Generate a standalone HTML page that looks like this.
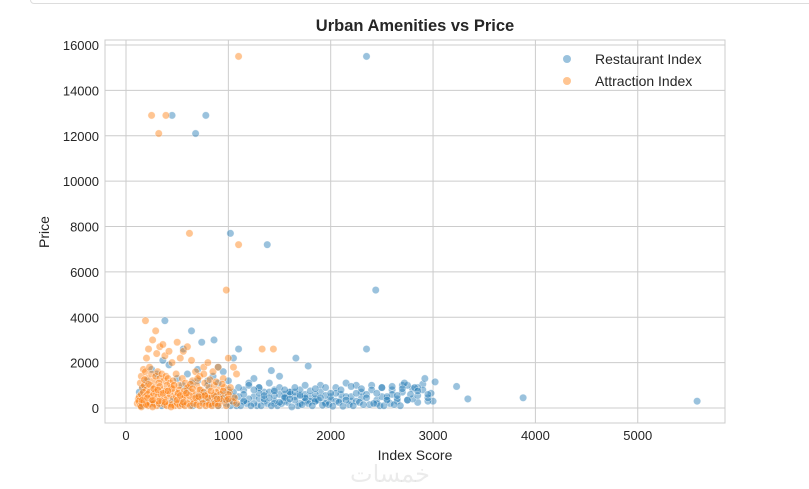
<!DOCTYPE html>
<html><head><meta charset="utf-8"><style>
body{margin:0;background:#fff;width:809px;height:489px;overflow:hidden;font-family:"Liberation Sans",sans-serif}
</style></head><body>
<div style="position:absolute;left:30px;top:-6px;width:790px;height:8px;border:1px solid #ddd;border-radius:4px"></div>
<svg id="c" width="809" height="489" style="position:absolute;left:0;top:0"></svg>
<script>
const xTicks=[0,1000,2000,3000,4000,5000];
const yTicks=[0,2000,4000,6000,8000,10000,12000,14000,16000];
const seriesNames=["Restaurant Index","Attraction Index"];
const restX=[450,680,780,2350,1020,1380,2440,2350,380,640,3880,5580,3340,3230,3020,860,740,560,1050,1100,1250,1420,1500,1660,1780,1900,2050,2150,2250,2400,2500,2600,2700,2800,2900,2980,3000,2950,2850,2750,2650,2550,2450,2300,2200,2100,2000,1950,1850,1750,1700,1600,1550,1450,1350,1300,1200,1150,900,950,850,800,700,600,500,420,360,300,250,200,160,130];
const restY=[12900,12100,12900,15500,7700,7200,5200,2600,3850,3400,450,300,400,950,1150,3000,2900,2600,2200,2600,1300,1650,1400,2200,1850,1000,900,1100,1000,1000,900,800,1000,850,1050,650,300,300,250,350,300,400,350,450,300,350,500,250,300,400,600,700,600,800,700,900,1100,800,1800,1600,1400,1200,1700,1500,1300,1900,2100,1500,1700,1200,900,700];
const restDense=[[1250,500],[1400,700],[1500,900],[1600,600],[1700,800],[1800,500],[1900,700],[2000,400],[2100,600],[2200,500],[2300,700],[2400,800],[2500,500],[2600,600],[2700,700],[2800,400],[2900,800],[1150,300],[1300,400],[1450,200],[1550,300],[1650,500],[1750,300],[1850,400],[1950,200],[2050,300],[2150,500],[2250,300],[2350,600],[2450,200],[2550,500],[2650,400],[2750,1000],[2850,900],[1000,800],[1100,500],[1200,400],[1350,300],[1500,600],[1600,700],[1700,200],[1800,300],[900,100],[1000,300],[1080,100],[1180,200],[1280,100],[1380,200],[1480,100],[1580,250],[1680,100],[1780,200],[1880,350],[1980,150],[2080,250],[2180,150],[2280,250],[2380,150],[2480,100],[2580,200],[2680,100],[2780,600],[700,500],[800,400],[950,600],[1050,500],[1150,300],[1250,200],[1350,400],[1450,300],[1550,500],[1650,700],[1750,600],[1850,300],[600,800],[750,700],[880,500],[980,200],[1020,100],[1120,100],[1220,100],[1320,100],[1420,100],[1520,200],[1620,50],[1720,150],[1820,100],[1920,120],[2020,80],[2120,80],[2220,100],[2320,150],[2420,200],[2520,100],[2620,150],[2720,1100],[2820,900],[2920,1300],[550,1000],[650,1100],[700,1200],[800,1000],[900,1100],[1000,1200],[1100,900],[1200,1000],[1300,900],[1400,1100],[1450,550],[1550,450],[1650,350],[1750,450],[1850,600],[1950,550],[2050,650],[2150,350],[2250,650],[2350,450],[2450,650],[2550,350],[2650,550],[2750,350],[2850,550],[2950,450],[1300,650],[1400,450],[1500,250],[1600,400],[1700,550],[1800,750],[1900,450],[2000,650],[1550,800],[1650,900],[1750,1000],[1850,850],[1950,900],[2100,800],[2200,950],[2300,850],[2500,900],[2600,950],[2700,850],[2850,750],[2950,600],[1050,700],[1150,600],[1250,800],[1350,550],[1450,750],[150,100],[250,200],[350,100],[450,300],[550,200],[650,100],[750,300],[850,200],[950,400],[1050,250]];
const attrX=[1100,250,390,320,620,1100,980,190,290,1440,1330,200,220,260,300,330,360,380,420,450,500,530,560,600,640,680,720,760,800,850,900,950,1000,1050,1080];
const attrY=[15500,12900,12900,12100,7700,7200,5200,3850,3400,2600,2600,2200,2600,3000,2400,2700,2800,2300,2500,2000,2900,2200,2500,2700,2100,1600,1400,1800,2000,1600,1800,1300,2200,1800,1500];
const attrDense=[[150,1400],[170,1700],[190,1600],[210,1300],[230,1800],[250,1500],[270,1200],[290,1400],[310,1600],[330,1300],[350,1500],[370,1200],[390,1400],[410,1300],[430,1100],[460,1200],[490,1500],[520,1000],[550,1300],[580,1100],[610,900],[650,1200],[690,1000],[730,800],[770,1100],[810,900],[860,1000],[910,800],[960,900],[1010,700],[140,1100],[160,900],[180,1000],[200,800],[240,1000],[280,900],[320,1100],[360,800],[400,1000],[440,900],[480,700],[520,800],[560,600],[600,900],[640,700],[680,600],[720,800],[760,700],[800,600],[840,500],[880,700],[920,600],[960,500],[1000,600],[120,400],[130,500],[150,600],[170,700],[190,500],[210,600],[230,700],[250,500],[270,600],[290,700],[310,500],[340,600],[370,400],[400,500],[430,600],[460,400],[490,500],[520,300],[550,400],[580,500],[620,300],[660,400],[700,300],[740,400],[780,300],[820,200],[860,300],[900,200],[940,300],[980,100],[110,200],[125,300],[140,100],[155,200],[175,300],[195,200],[215,100],[235,200],[255,300],[275,200],[300,100],[325,200],[350,300],[375,150],[400,100],[425,200],[450,150],[475,100],[500,200],[525,100],[550,150],[575,100],[600,200],[630,100],[660,200],[690,150],[720,100],[750,200],[780,100],[810,150],[840,100],[870,200],[900,100],[150,50],[200,150],[260,50],[320,300],[380,250],[440,50],[500,350],[560,250],[620,550],[680,450],[740,550],[800,450],[860,550],[920,400],[980,350],[1040,300],[1080,200],[1060,450],[1020,900],[180,1250],[220,1050],[270,850],[330,950],[390,750],[450,850],[510,650],[570,750],[630,1050],[700,1300],[760,1500],[820,1250],[880,1150],[940,1050],[160,350],[210,450],[260,350],[310,800],[360,650],[410,750],[470,1000],[530,550],[590,650],[650,850],[710,500],[770,550],[830,750],[890,400],[950,750],[1000,400]];
const L=105,T=40,R=725,B=423;
const xs=v=>126+v*0.10235, ys=v=>408-v*0.022685;
const svg=document.getElementById('c');const NS='http://www.w3.org/2000/svg';
function mk(t,a,p){const e=document.createElementNS(NS,t);for(const k in a)e.setAttribute(k,a[k]);(p||svg).appendChild(e);return e;}
let bg=mk('rect',{x:L,y:T,width:R-L,height:B-T,fill:'#fff',stroke:'#ccc','stroke-width':1});


xTicks.forEach(t=>{let l=mk('line',{x1:xs(t),x2:xs(t),y1:T,y2:B,stroke:'#ccc'});


let tx=mk('text',{x:xs(t),y:B+17,'text-anchor':'middle','font-size':13,fill:'#262626'});tx.textContent=t;

});
yTicks.forEach(t=>{let l=mk('line',{x1:L,x2:R,y1:ys(t),y2:ys(t),stroke:'#ccc'});


let tx=mk('text',{x:L-6,y:ys(t)+5,'text-anchor':'end','font-size':13,fill:'#262626'});tx.textContent=t;

});
function dot(x,y,col,name){let c=mk('circle',{cx:xs(x),cy:ys(y),r:3.7,fill:col,'fill-opacity':0.45,stroke:'#fff','stroke-opacity':0.6,'stroke-width':0.6});

}
function pts(X,Y,D,col,name){const n=Math.min(X.length,Y.length);for(let i=0;i<n;i++)dot(X[i],Y[i],col,name);D.forEach(p=>dot(p[0],p[1],col,name));}
pts(restX,restY,restDense,'#1f77b4','restaurant-point');
pts(attrX,attrY,attrDense,'#ff7f0e','attraction-point');
let ti=mk('text',{x:415,y:31,'text-anchor':'middle','font-size':16.5,'font-weight':'bold',fill:'#262626'});ti.textContent='Urban Amenities vs Price';


let xl=mk('text',{x:415,y:460,'text-anchor':'middle','font-size':14,fill:'#262626'});xl.textContent='Index Score';


let yl=mk('text',{x:49,y:232,'text-anchor':'middle','font-size':14,fill:'#262626',transform:'rotate(-90 49 232)'});yl.textContent='Price';


[['#1f77b4',59],['#ff7f0e',81]].forEach((d,i)=>{let c=mk('circle',{cx:567,cy:d[1],r:4,fill:d[0],'fill-opacity':0.45});


let t=mk('text',{x:595,y:d[1]+5,'font-size':14,fill:'#262626'});t.textContent=seriesNames[i];

});
let wm=mk('text',{x:390,y:482,'text-anchor':'middle','font-size':24,fill:'#000','fill-opacity':0.08,'font-family':'DejaVu Sans,sans-serif'});wm.textContent='خمسات';


</script>
</body></html>
